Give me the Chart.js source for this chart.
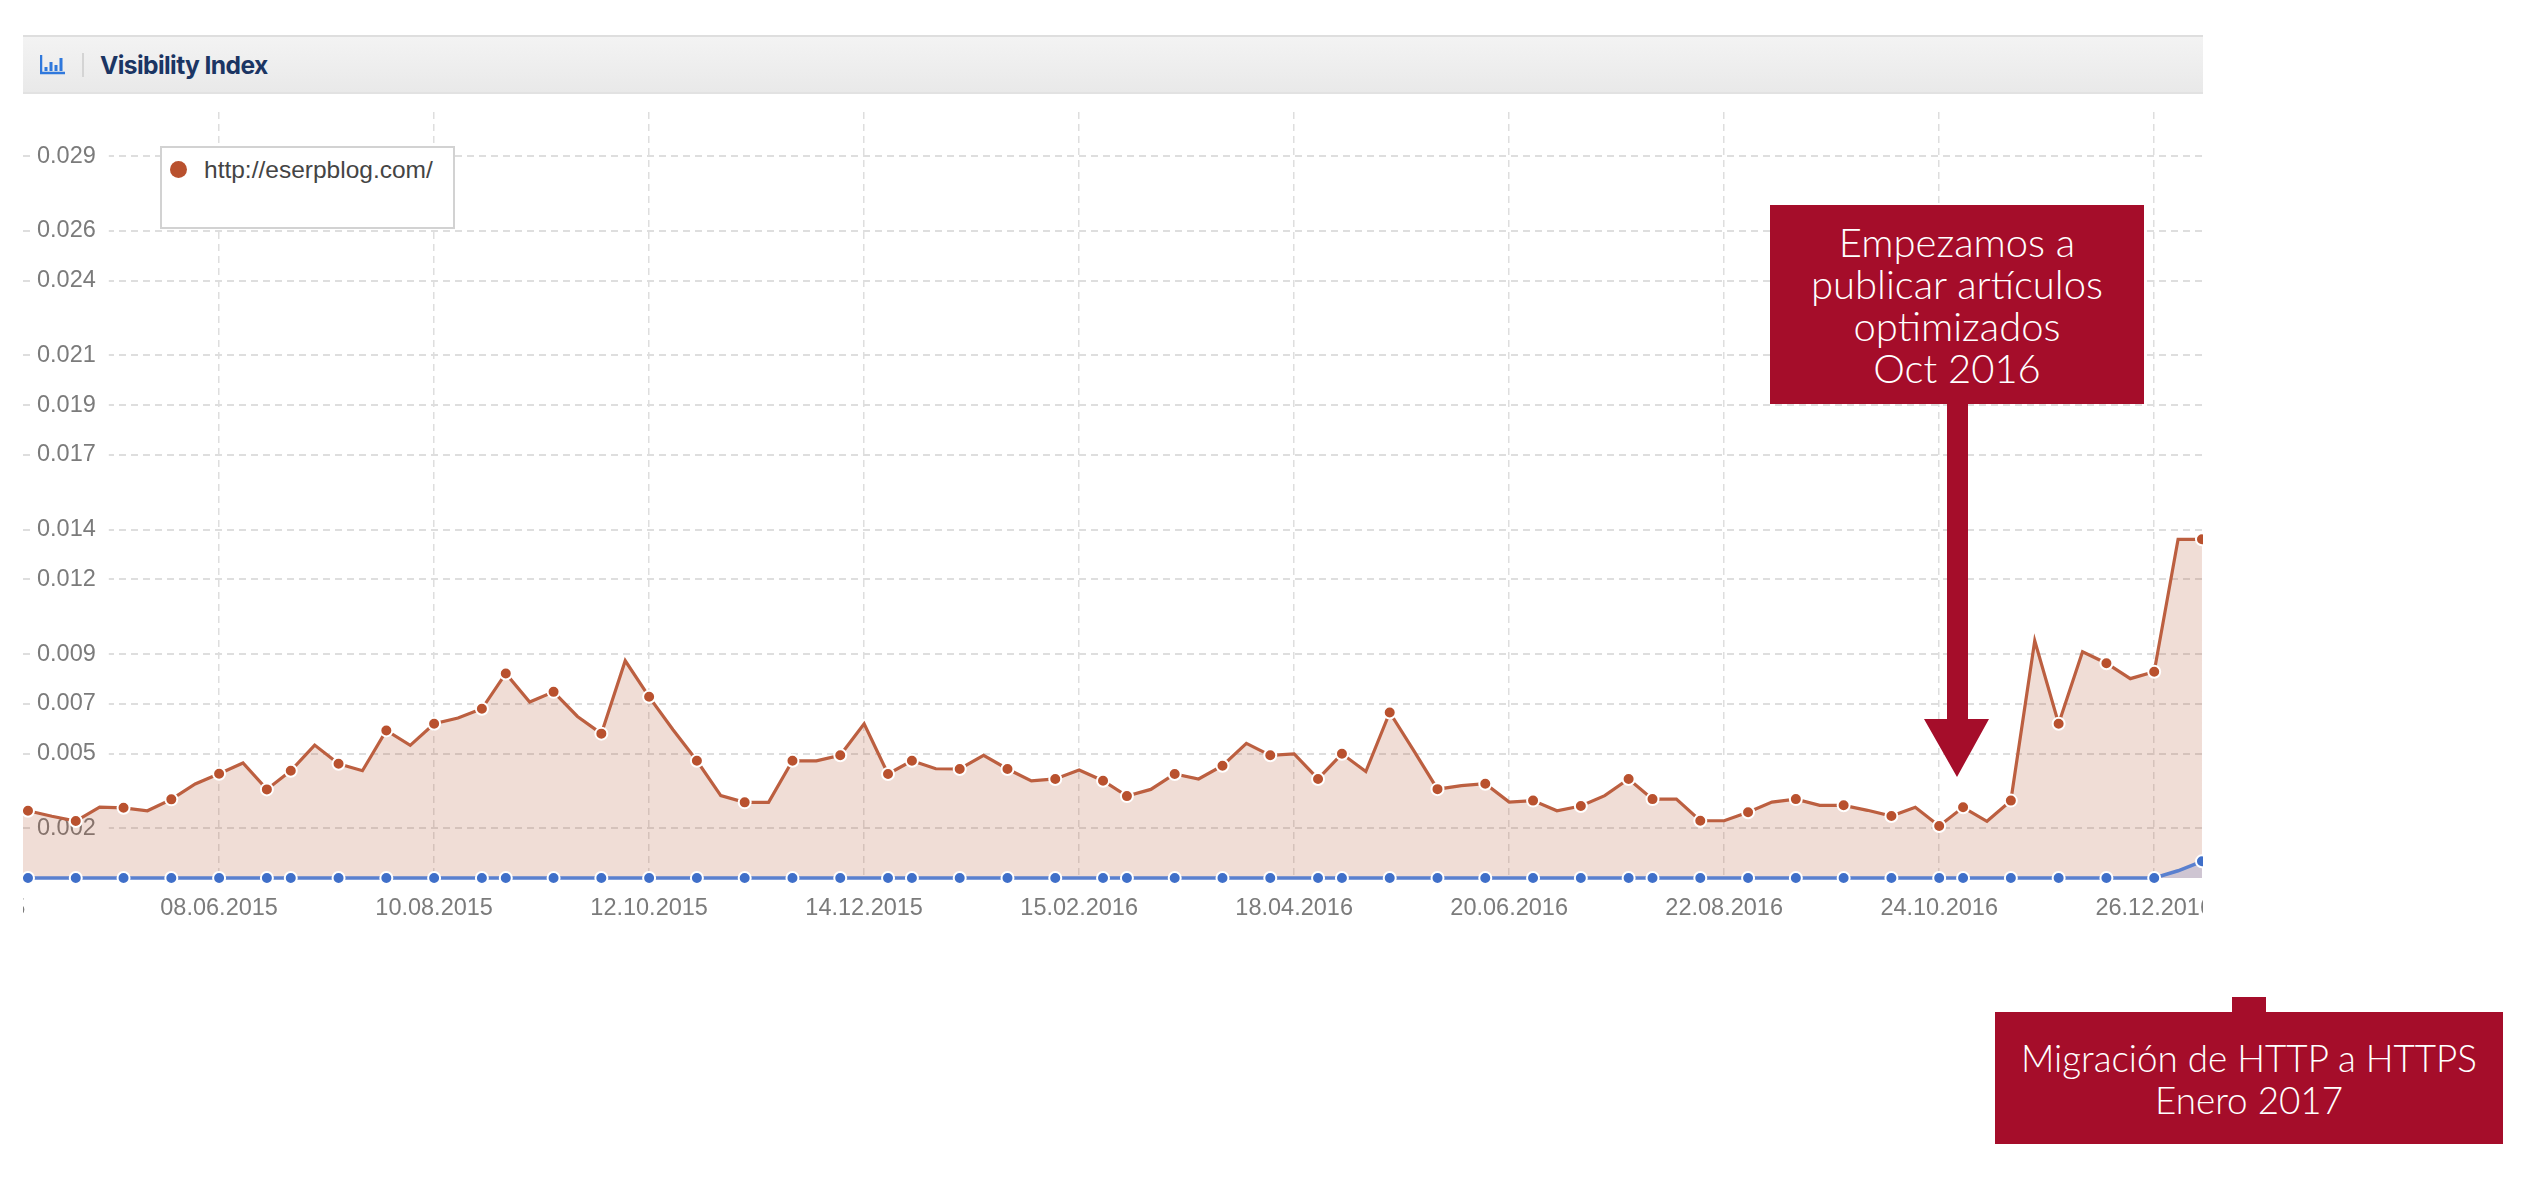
<!DOCTYPE html>
<html lang="es">
<head>
<meta charset="utf-8">
<title>Visibility Index</title>
<script src="https://cdn.jsdelivr.net/npm/chart.js@4"></script>
<style>
  body { margin: 0; background: #fff; width: 2534px; height: 1192px; overflow: hidden; position: relative; font-family: "Liberation Sans", Arial, sans-serif; }
  .header { position: absolute; left: 23px; top: 35px; width: 2180px; height: 59px; box-sizing: border-box; background: linear-gradient(#f3f3f3, #e9e9e9); border-top: 2px solid #dedede; border-bottom: 2px solid #e2e2e2; }
  .header svg { position: absolute; left: 17px; top: 18px; }
  .header .sep { position: absolute; left: 59px; top: 16px; width: 2px; height: 24px; background: #d4d4d4; }
  .header .title { position: absolute; left: 77px; top: 0; font: 700 24.6px/56px Inter, sans-serif; letter-spacing: -0.6px; color: #1b3563; }
  .plot { position: absolute; left: 23px; top: 0; width: 2180px; height: 939px; }
  .legend { position: absolute; left: 160px; top: 146px; width: 295px; height: 83px; box-sizing: border-box; background: #fff; border: 2px solid #d2d2d2; }
  .legend i { position: absolute; left: 8px; top: 13px; width: 17px; height: 17px; border-radius: 50%; background: #b9512e; }
  .legend span { position: absolute; left: 42px; top: 7px; font-size: 24.5px; line-height: 30px; color: #444; white-space: nowrap; }
  .note { position: absolute; background: #a50d2a; color: #fff; font-family: Lato, sans-serif; font-weight: 300; text-align: center; box-sizing: border-box; }
  .note1 { left: 1770px; top: 205px; width: 374px; height: 199px; padding-top: 16px; font-size: 40px; line-height: 42px; }
  .note2 { left: 1995px; top: 1012px; width: 508px; height: 132px; padding-top: 25px; font-size: 36.8px; line-height: 42px; }
  .tab { position: absolute; left: 2232px; top: 997px; width: 34px; height: 15px; background: #a50d2a; }
  .arrow { position: absolute; left: 1920px; top: 400px; }
</style>
</head>
<body>
<div class="header">
  <svg width="26" height="20" viewBox="0 0 26 20">
    <path d="M1 0V18H25" fill="none" stroke="#2f78dc" stroke-width="2.5"/>
    <path d="M6 16V12M11 16V7M16 16V10M21 16V3" fill="none" stroke="#2f78dc" stroke-width="3"/>
  </svg>
  <div class="sep"></div>
  <div class="title">Visibility Index</div>
</div>
<div class="plot"><canvas id="chart" width="2180" height="939"></canvas></div>
<div class="legend"><i></i><span>http://eserpblog.com/</span></div>
<svg class="arrow" width="74" height="380">
  <path d="M27 0H48V319H69L37 377L4 319H27Z" fill="#a50d2a"/>
</svg>
<div class="note note1">Empezamos a<br>publicar artículos<br>optimizados<br>Oct 2016</div>
<div class="tab"></div>
<div class="note note2">Migración de HTTP a HTTPS<br>Enero 2017</div>

<script>
const weeks = [
  '06.04.2015', '13.04.2015', '20.04.2015', '27.04.2015', '04.05.2015', '11.05.2015', '18.05.2015', '25.05.2015',
  '01.06.2015', '08.06.2015', '15.06.2015', '22.06.2015', '29.06.2015', '06.07.2015', '13.07.2015', '20.07.2015',
  '27.07.2015', '03.08.2015', '10.08.2015', '17.08.2015', '24.08.2015', '31.08.2015', '07.09.2015', '14.09.2015',
  '21.09.2015', '28.09.2015', '05.10.2015', '12.10.2015', '19.10.2015', '26.10.2015', '02.11.2015', '09.11.2015',
  '16.11.2015', '23.11.2015', '30.11.2015', '07.12.2015', '14.12.2015', '21.12.2015', '28.12.2015', '04.01.2016',
  '11.01.2016', '18.01.2016', '25.01.2016', '01.02.2016', '08.02.2016', '15.02.2016', '22.02.2016', '29.02.2016',
  '07.03.2016', '14.03.2016', '21.03.2016', '28.03.2016', '04.04.2016', '11.04.2016', '18.04.2016', '25.04.2016',
  '02.05.2016', '09.05.2016', '16.05.2016', '23.05.2016', '30.05.2016', '06.06.2016', '13.06.2016', '20.06.2016',
  '27.06.2016', '04.07.2016', '11.07.2016', '18.07.2016', '25.07.2016', '01.08.2016', '08.08.2016', '15.08.2016',
  '22.08.2016', '29.08.2016', '05.09.2016', '12.09.2016', '19.09.2016', '26.09.2016', '03.10.2016', '10.10.2016',
  '17.10.2016', '24.10.2016', '31.10.2016', '07.11.2016', '14.11.2016', '21.11.2016', '28.11.2016', '05.12.2016',
  '12.12.2016', '19.12.2016', '26.12.2016', '02.01.2017', '09.01.2017'
];

const httpValues = [
  0.00280, 0.00270, 0.00248, 0.00229, 0.00285, 0.00282, 0.00270, 0.00316, 0.00378, 0.00419, 0.00462, 0.00356,
  0.00431, 0.00534, 0.00459, 0.00431, 0.00593, 0.00533, 0.00620, 0.00643, 0.00680, 0.00822, 0.00707, 0.00748,
  0.00649, 0.00580, 0.00873, 0.00728, 0.00596, 0.00471, 0.00331, 0.00304, 0.00304, 0.00471, 0.00471, 0.00493,
  0.00620, 0.00418, 0.00471, 0.00439, 0.00438, 0.00493, 0.00438, 0.00390, 0.00398, 0.00434, 0.00391, 0.00329,
  0.00356, 0.00418, 0.00398, 0.00451, 0.00541, 0.00493, 0.00499, 0.00398, 0.00499, 0.00428, 0.00665, 0.00513,
  0.00357, 0.00371, 0.00379, 0.00305, 0.00311, 0.00270, 0.00289, 0.00331, 0.00398, 0.00317, 0.00317, 0.00230,
  0.00230, 0.00264, 0.00305, 0.00317, 0.00292, 0.00292, 0.00272, 0.00249, 0.00284, 0.00209, 0.00284, 0.00228,
  0.00311, 0.00953, 0.00620, 0.00909, 0.00863, 0.00801, 0.00829, 0.01361, 0.01361
];

const httpsValues = [
  0, 0, 0, 0, 0, 0, 0, 0, 0, 0, 0, 0, 0, 0, 0, 0, 0, 0, 0, 0, 0, 0, 0, 0, 0, 0, 0, 0, 0, 0, 0,
  0, 0, 0, 0, 0, 0, 0, 0, 0, 0, 0, 0, 0, 0, 0, 0, 0, 0, 0, 0, 0, 0, 0, 0, 0, 0, 0, 0, 0, 0, 0,
  0, 0, 0, 0, 0, 0, 0, 0, 0, 0, 0, 0, 0, 0, 0, 0, 0, 0, 0, 0, 0, 0, 0, 0, 0, 0, 0, 0, 0, 0.00029, 0.00067
];

// only some of the weeks carry a dot in the original
const markedWeeks = [
  1, 3, 5, 7, 9, 11, 12, 14, 16, 18, 20, 21, 23, 25, 27, 29, 31, 33, 35, 37, 38, 40, 42, 44, 46,
  47, 49, 51, 53, 55, 56, 58, 60, 62, 64, 66, 68, 69, 71, 73, 75, 77, 79, 81, 82, 84, 86, 88, 90, 92
];

const yTickValues = [0.002, 0.005, 0.007, 0.009, 0.012, 0.014, 0.017, 0.019, 0.021, 0.024, 0.026, 0.029];
const xTickLabels = [
  '26.03.2015', '08.06.2015', '10.08.2015', '12.10.2015', '14.12.2015', '15.02.2016',
  '18.04.2016', '20.06.2016', '22.08.2016', '24.10.2016', '26.12.2016'
];

const dayOf = (label) => {
  const [d, m, y] = label.split('.').map(Number);
  return Date.UTC(y, m - 1, d) / 86400000;
};

const toPoints = (values) => values.map((v, i) => ({ x: dayOf(weeks[i]), y: v }));
const radii = (r) => weeks.map((_, i) => (markedWeeks.includes(i) ? r : 0));

const gridColor = '#dedede';

new Chart(document.getElementById('chart'), {
  type: 'line',
  data: {
    datasets: [
      {
        label: 'https',
        data: toPoints(httpsValues),
        borderColor: '#5a80cf',
        backgroundColor: 'rgba(68, 100, 190, 0.2)',
        pointBackgroundColor: '#3f6fc9',
        pointBorderColor: '#ffffff',
        borderWidth: 3.5,
        pointBorderWidth: 2,
        pointRadius: radii(6),
        fill: 'origin',
        tension: 0,
        clip: false,
      },
      {
        label: 'http://eserpblog.com/',
        data: toPoints(httpValues),
        borderColor: '#bc5f40',
        backgroundColor: 'rgba(181, 83, 48, 0.2)',
        pointBackgroundColor: '#b9512e',
        pointBorderColor: '#ffffff',
        borderWidth: 3.2,
        pointBorderWidth: 2,
        pointRadius: radii(6),
        fill: 'origin',
        tension: 0,
        clip: false,
      },
    ],
  },
  options: {
    responsive: false,
    animation: false,
    layout: { autoPadding: false, padding: { top: 112, left: 0, right: 0, bottom: 0 } },
    plugins: { legend: { display: false }, tooltip: { enabled: false } },
    scales: {
      x: {
        type: 'linear',
        min: dayOf('13.04.2015') - 1.46,
        max: dayOf('09.01.2017') + 0.3,
        afterBuildTicks: (axis) => {
          axis.ticks = xTickLabels.map((l) => ({ value: dayOf(l) }));
        },
        // tick labels are cut at the edges in the original, so no room is kept for them
        afterFit: (axis) => {
          axis.paddingLeft = 0;
          axis.paddingRight = 0;
        },
        grid: { color: gridColor, lineWidth: 1.5, drawTicks: false, tickLength: 0 },
        border: { display: false, dash: [7, 5] },
        ticks: {
          autoSkip: false,
          maxRotation: 0,
          padding: 16.4,
          color: '#7b7b7b',
          font: { family: '"Liberation Sans"', size: 23.5, lineHeight: 1.2 },
          callback: (value) => xTickLabels.find((l) => dayOf(l) === value),
        },
      },
      y: {
        min: 0,
        max: 0.03078,
        afterBuildTicks: (axis) => {
          axis.ticks = yTickValues.map((v) => ({ value: v }));
        },
        // labels sit inside the plot
        afterFit: (axis) => {
          axis.width = 0;
        },
        grid: { color: gridColor, lineWidth: 2, drawTicks: false, tickLength: 0 },
        border: { display: false, dash: [7, 5] },
        ticks: {
          mirror: true,
          padding: 14,
          color: '#7b7b7b',
          font: { family: '"Liberation Sans"', size: 23.5 },
          showLabelBackdrop: true,
          backdropColor: '#ffffff',
          backdropPadding: { left: 3, right: 13, top: 0, bottom: 0 },
          callback: (value) => value.toFixed(3),
        },
      },
    },
  },
});
</script>
</body>
</html>
